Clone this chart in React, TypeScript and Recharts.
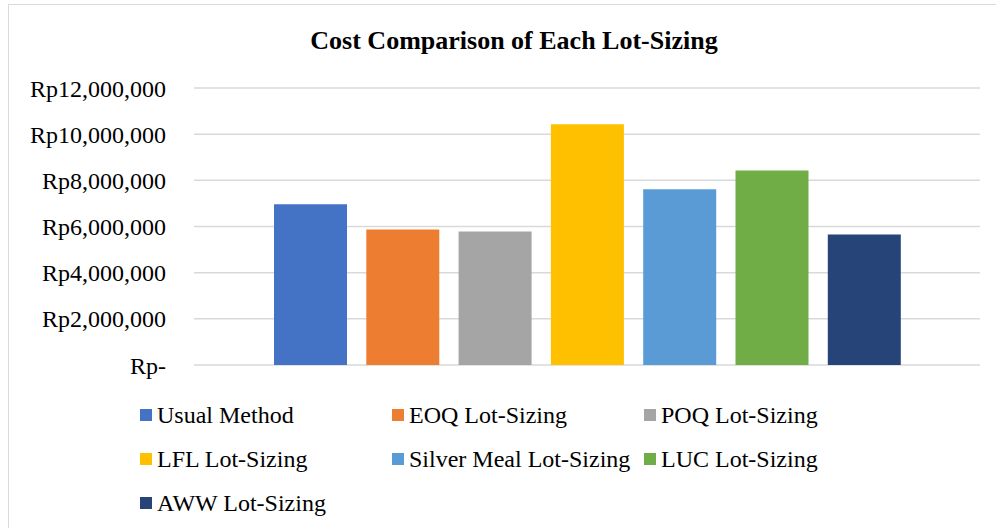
import React from 'react';
import { BarChart, Bar, XAxis, YAxis, CartesianGrid, Legend } from 'recharts';

const methods = [
  'Usual Method',
  'EOQ Lot-Sizing',
  'POQ Lot-Sizing',
  'LFL Lot-Sizing',
  'Silver Meal Lot-Sizing',
  'LUC Lot-Sizing',
  'AWW Lot-Sizing',
];
const costs = [6960000, 5870000, 5780000, 10430000, 7610000, 8430000, 5650000];
const colors = ['#4472C4', '#ED7D31', '#A5A5A5', '#FFC000', '#5B9BD5', '#70AD47', '#264478'];
const yTicks = [0, 2000000, 4000000, 6000000, 8000000, 10000000, 12000000];

const FONT = "'Liberation Serif', 'Times New Roman', serif";

const chartData = [
  methods.reduce<Record<string, number | string>>(
    (row, m, i) => {
      row[m] = costs[i];
      return row;
    },
    { name: 'Cost' }
  ),
];

const formatRp = (v: number) => (v === 0 ? 'Rp-' : `Rp${v.toLocaleString('en-US')}`);

const LegendGrid = (props: any) => {
  // keep the series order, recharts sorts the payload by name
  const items = [...(props.payload || [])].sort(
    (a: any, b: any) => methods.indexOf(a.value) - methods.indexOf(b.value)
  );
  return (
    <div
      style={{
        display: 'grid',
        gridTemplateColumns: 'repeat(3, 252px)',
        marginLeft: 140,
        fontFamily: FONT,
        fontSize: 24,
        color: '#000',
      }}
    >
      {items.map((item: any) => (
        <div key={item.value} style={{ display: 'flex', alignItems: 'center', height: 44, whiteSpace: 'nowrap' }}>
          <span style={{ width: 12, height: 12, background: item.color, marginRight: 5, display: 'inline-block' }} />
          <span>{item.value}</span>
        </div>
      ))}
    </div>
  );
};

export default function App() {
  return (
    <div style={{ position: 'fixed', left: 0, top: 0, width: 996, height: 528, overflow: 'hidden', background: '#fff' }}>
      <div
        style={{
          position: 'absolute',
          left: 8,
          top: 4,
          width: 1010,
          height: 560,
          border: '1px solid #d9d9d9',
        }}
      />
      <div
        style={{
          position: 'absolute',
          left: 32,
          width: 964,
          top: 27,
          lineHeight: '28px',
          textAlign: 'center',
          fontFamily: FONT,
          fontWeight: 'bold',
          fontSize: 26,
          color: '#000',
        }}
      >
        Cost Comparison of Each Lot-Sizing
      </div>
      <div style={{ position: 'absolute', left: 0, top: 0 }}>
        <BarChart
          width={996}
          height={528}
          data={chartData}
          margin={{ top: 88, right: 16, bottom: 163, left: 0 }}
          barSize={73}
          barGap={19.3}
        >
          <CartesianGrid vertical={false} stroke="#d9d9d9" strokeWidth={1.5} />
          <XAxis dataKey="name" hide />
          <YAxis
            width={194}
            domain={[0, 12000000]}
            ticks={yTicks}
            interval={0}
            axisLine={false}
            tickLine={false}
            tickSize={0}
            tickMargin={28}
            tickFormatter={formatRp}
            tick={{ fill: '#000', fontSize: 24, fontFamily: FONT }}
          />
          <Legend
            layout="vertical"
            verticalAlign="middle"
            align="center"
            wrapperStyle={{ top: 393, left: 0, width: 996 }}
            content={LegendGrid}
          />
          {methods.map((m, i) => (
            <Bar key={m} dataKey={m} fill={colors[i]} isAnimationActive={false} />
          ))}
        </BarChart>
      </div>
    </div>
  );
}
